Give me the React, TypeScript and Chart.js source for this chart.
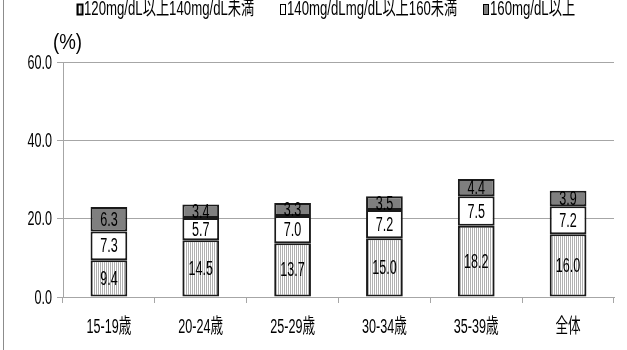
import React, { useEffect, useRef } from "react";
import { Chart, registerables } from "chart.js";

Chart.register(...registerables);

const categories = ["15-19歳", "20-24歳", "25-29歳", "30-34歳", "35-39歳", "全体"];
const seriesNames = ["120mg/dL以上140mg/dL未満", "140mg/dLmg/dL以上160未満", "160mg/dL以上"];
const series120to140 = [9.4, 14.5, 13.7, 15.0, 18.2, 16.0];
const series140to160 = [7.3, 5.7, 7.0, 7.2, 7.5, 7.2];
const series160plus = [6.3, 3.4, 3.3, 3.5, 4.4, 3.9];
const yTicks = [0, 20, 40, 60];
const unitLabel = "(%)";

const FONT = '"Liberation Sans", "Noto Sans CJK JP", sans-serif';
const SX = 0.63;

function makeStripe(): CanvasPattern | string {
  const c = document.createElement("canvas");
  c.width = 2;
  c.height = 2;
  const g = c.getContext("2d");
  if (!g) return "#d9d9d9";
  g.fillStyle = "#ffffff";
  g.fillRect(0, 0, 2, 2);
  g.fillStyle = "#b0b0b0";
  g.fillRect(0, 0, 1, 2);
  const p = g.createPattern(c, "repeat");
  return p || "#d9d9d9";
}

function narrowText(ctx: CanvasRenderingContext2D, text: string, x: number, y: number, align: CanvasTextAlign, size: number, sx = SX) {
  ctx.save();
  ctx.font = `${size}px ${FONT}`;
  ctx.textAlign = align;
  ctx.textBaseline = "middle";
  ctx.fillStyle = "#000";
  ctx.translate(x, y);
  ctx.scale(sx, 1);
  ctx.fillText(text, 0, 0);
  ctx.restore();
}

const labelsPlugin = {
  id: "segLabels",
  afterDatasetsDraw(chart: any) {
    const ctx = chart.ctx;
    chart.data.datasets.forEach((ds: any, i: number) => {
      const meta = chart.getDatasetMeta(i);
      meta.data.forEach((el: any, j: number) => {
        const p = el.getCenterPoint();
        narrowText(ctx, Number(ds.data[j]).toFixed(1), p.x, p.y + 1, "center", 20);
      });
    });
  },
};

const decorPlugin = {
  id: "decor",
  afterDraw(chart: any) {
    const ctx = chart.ctx;
    const area = chart.chartArea;
    const ys = chart.scales.y;
    ys.ticks.forEach((t: any) => {
      narrowText(ctx, Number(t.value).toFixed(1), area.left - 11, ys.getPixelForValue(t.value) + 1, "right", 20);
    });
    const xs = chart.scales.x;
    chart.data.labels.forEach((lab: string, i: number) => {
      narrowText(ctx, lab, xs.getPixelForTick(i), area.bottom + 30, "center", 20);
    });
    narrowText(ctx, unitLabel, area.left - 10, area.top - 19, "left", 22, 0.85);
    const legendStart = 77;
    const legendStep = 203;
    const cy = 9;
    chart.data.datasets.forEach((ds: any, i: number) => {
      const x = legendStart + i * legendStep;
      ctx.save();
      ctx.fillStyle = ds.backgroundColor;
      ctx.fillRect(x, cy - 5, 6, 11);
      ctx.strokeStyle = "#000";
      ctx.lineWidth = i === 0 ? 2 : 1;
      ctx.strokeRect(x + 0.5, cy - 4.5, 5, 10);
      ctx.restore();
      narrowText(ctx, ds.label, x + 7, cy, "left", 20, 0.66);
    });
  },
};

export default function App() {
  const ref = useRef<HTMLCanvasElement | null>(null);
  useEffect(() => {
    if (!ref.current) return;
    const stripe = makeStripe();
    const fills = [stripe, "#ffffff", "#7f7f7f"];
    const values = [series120to140, series140to160, series160plus];
    const chart = new Chart(ref.current, {
      type: "bar",
      data: {
        labels: categories,
        datasets: values.map((v, i) => ({
          label: seriesNames[i],
          data: v,
          backgroundColor: fills[i] as any,
          borderColor: "#1a1a1a",
          borderWidth: 2,
          borderSkipped: false,
          categoryPercentage: 0.8,
          barPercentage: 0.5,
        })),
      },
      options: {
        animation: false,
        responsive: false,
        maintainAspectRatio: false,
        layout: { padding: { top: 62, right: 13, left: 0, bottom: 0 } },
        plugins: {
          legend: { display: false },
          tooltip: { enabled: false },
          title: { display: false },
        },
        scales: {
          x: {
            stacked: true,
            grid: {
              drawOnChartArea: false,
              drawTicks: true,
              tickLength: 6,
              color: "#a6a6a6",
              offset: true,
            },
            border: { color: "#a6a6a6" },
            ticks: { display: false },
            afterFit: (s: any) => {
              s.height = 53;
            },
          },
          y: {
            stacked: true,
            min: 0,
            max: 60,
            afterBuildTicks: (s: any) => {
              s.ticks = yTicks.map((v) => ({ value: v }));
            },
            ticks: { display: false },
            grid: { color: "#a6a6a6", tickLength: 6 },
            border: { color: "#a6a6a6" },
            afterFit: (s: any) => {
              s.width = 63;
            },
          },
        },
      },
      plugins: [labelsPlugin, decorPlugin],
    });
    return () => chart.destroy();
  }, []);
  return (
    <div style={{ position: "fixed", left: 0, top: 0, width: 627, height: 350, background: "#fff" }}>
      <div style={{ position: "absolute", left: 3, top: 0, width: 1, height: 350, background: "#8c8c8c" }} />
      <canvas ref={ref} width={627} height={350} style={{ position: "absolute", left: 0, top: 0 }} />
    </div>
  );
}
